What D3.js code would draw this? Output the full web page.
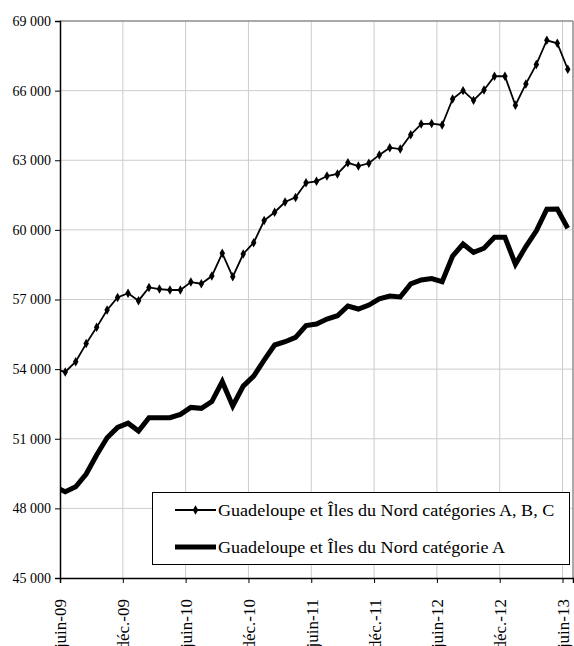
<!DOCTYPE html>
<html>
<head>
<meta charset="utf-8">
<script src="https://cdn.jsdelivr.net/npm/d3@7"></script>
<style>
  body { margin: 0; background: #fff; }
  svg text { font-family: "Liberation Serif", "Times New Roman", serif; }
</style>
</head>
<body>
<div id="chart"></div>
<script>
// mois depuis juin-09 (mai-09 en premier, hors cadre)
const months = d3.range(-1, 49);

const tickMonths = [0, 6, 12, 18, 24, 30, 36, 42, 48];
const tickLabels = ['juin-09', 'déc.-09', 'juin-10', 'déc.-10', 'juin-11',
                    'déc.-11', 'juin-12', 'déc.-12', 'juin-13'];

const yTicks = [45000, 48000, 51000, 54000, 57000, 60000, 63000, 66000, 69000];

const seriesNames = ['Guadeloupe et Îles du Nord catégories A, B, C',
                     'Guadeloupe et Îles du Nord catégorie A'];

const abcValues = [54000,
  53880, 54320, 55100, 55800, 56550, 57090, 57270, 56950, 57520, 57450,
  57410, 57410, 57750, 57680, 58010, 58990, 57980, 58960, 59450, 60400,
  60760, 61200, 61400, 62030, 62090, 62320, 62410, 62890, 62750, 62870,
  63230, 63540, 63480, 64100, 64560, 64580, 64520, 65640, 66000, 65580,
  66030, 66620, 66620, 65370, 66290, 67130, 68170, 68040, 66920];

const aValues = [48920,
  48720, 48930, 49480, 50300, 51040, 51490, 51670, 51330, 51910, 51910,
  51910, 52050, 52350, 52310, 52600, 53460, 52410, 53270, 53700, 54390,
  55040, 55180, 55370, 55880, 55940, 56160, 56300, 56720, 56590, 56760,
  57030, 57150, 57110, 57670, 57840, 57900, 57770, 58870, 59390, 59030,
  59210, 59680, 59680, 58520, 59280, 59960, 60890, 60900, 60070];

const FONT = '"Liberation Serif", "Times New Roman", serif';
const W = 574, H = 646;
const mLeft = 60, mRight = 573, mTop = 21, mBottom = 578;

const svg = d3.select('#chart').append('svg')
  .attr('width', W).attr('height', H);

const x = d3.scaleLinear().domain([0, 49]).range([mLeft, mRight]);
const y = d3.scaleLinear().domain([45000, 69000]).range([mBottom, mTop]);

// grille
svg.append('g').selectAll('line')
  .data(yTicks.slice(1, -1))
  .enter().append('line')
  .attr('x1', mLeft).attr('x2', mRight)
  .attr('y1', d => y(d)).attr('y2', d => y(d))
  .attr('stroke', '#cccccc').attr('stroke-width', 1);

svg.append('g').selectAll('line')
  .data(tickMonths.slice(1))
  .enter().append('line')
  .attr('x1', d => x(d)).attr('x2', d => x(d))
  .attr('y1', mTop).attr('y2', mBottom)
  .attr('stroke', '#cccccc').attr('stroke-width', 1);

// bord haut et droit
svg.append('line').attr('x1', mLeft).attr('x2', mRight).attr('y1', mTop).attr('y2', mTop)
  .attr('stroke', '#8c8c8c').attr('stroke-width', 1.5);
svg.append('line').attr('x1', mRight).attr('x2', mRight).attr('y1', mTop).attr('y2', mBottom)
  .attr('stroke', '#8c8c8c').attr('stroke-width', 1.5);

// séries
svg.append('clipPath').attr('id', 'clip')
  .append('rect').attr('x', mLeft).attr('y', mTop)
  .attr('width', mRight - mLeft).attr('height', mBottom - mTop);

const line = d3.line()
  .x(d => x(d[0] + 0.5))
  .y(d => y(d[1]));

const plot = svg.append('g').attr('clip-path', 'url(#clip)');

plot.append('path')
  .datum(months.map((m, i) => [m, aValues[i]]))
  .attr('d', line)
  .attr('fill', 'none').attr('stroke', '#000')
  .attr('stroke-width', 5).attr('stroke-linejoin', 'miter');

plot.append('path')
  .datum(months.map((m, i) => [m, abcValues[i]]))
  .attr('d', line)
  .attr('fill', 'none').attr('stroke', '#000').attr('stroke-width', 1.8);

const diamond = d3.symbol().type(d3.symbolDiamond).size(26);
plot.selectAll('path.pt')
  .data(months.map((m, i) => [m, abcValues[i]]))
  .enter().append('path')
  .attr('class', 'pt')
  .attr('d', diamond)
  .attr('transform', d => `translate(${x(d[0] + 0.5)},${y(d[1])})`)
  .attr('fill', '#000');

// axes
const yAxis = d3.axisLeft(y).tickValues(yTicks).tickSize(5)
  .tickFormat(d => d3.format(',')(d).replace(',', ' '));
const gy = svg.append('g').attr('transform', `translate(${mLeft},0)`).call(yAxis)
  .attr('font-family', FONT);
gy.select('.domain').attr('stroke-width', 1.5);
gy.selectAll('text').attr('font-size', 14).attr('fill', '#000').attr('x', -9)
  .attr('font-family', FONT);

const xAxis = d3.axisBottom(x).tickValues(tickMonths).tickSize(5)
  .tickFormat((d, i) => tickLabels[i]);
const gx = svg.append('g').attr('transform', `translate(0,${mBottom})`).call(xAxis)
  .attr('font-family', FONT);
gx.select('.domain').attr('stroke-width', 1.5);
// libellés verticaux, coupés en bas comme dans l'original
gx.selectAll('text')
  .attr('font-size', 17).attr('fill', '#000')
  .attr('font-family', FONT)
  .attr('transform', 'rotate(-90)')
  .attr('text-anchor', 'end')
  .attr('x', -21).attr('y', 0).attr('dy', '0.35em');

// légende
const lg = svg.append('g');
lg.append('rect')
  .attr('x', 152.5).attr('y', 492.5).attr('width', 417).attr('height', 72)
  .attr('fill', '#fff').attr('stroke', '#000').attr('stroke-width', 1);

lg.append('line').attr('x1', 175).attr('x2', 216).attr('y1', 510).attr('y2', 510)
  .attr('stroke', '#000').attr('stroke-width', 1.8);
lg.append('path').attr('d', diamond)
  .attr('transform', 'translate(195.5,510)').attr('fill', '#000');
lg.append('line').attr('x1', 175).attr('x2', 216).attr('y1', 547).attr('y2', 547)
  .attr('stroke', '#000').attr('stroke-width', 5);

lg.selectAll('text.lg')
  .data(seriesNames)
  .enter().append('text')
  .attr('transform', (d, i) => `translate(218,${510 + i * 37}) scale(1.13,1)`)
  .attr('dy', '0.35em')
  .attr('font-size', 16)
  .attr('font-family', FONT)
  .text(d => d);
</script>
</body>
</html>
